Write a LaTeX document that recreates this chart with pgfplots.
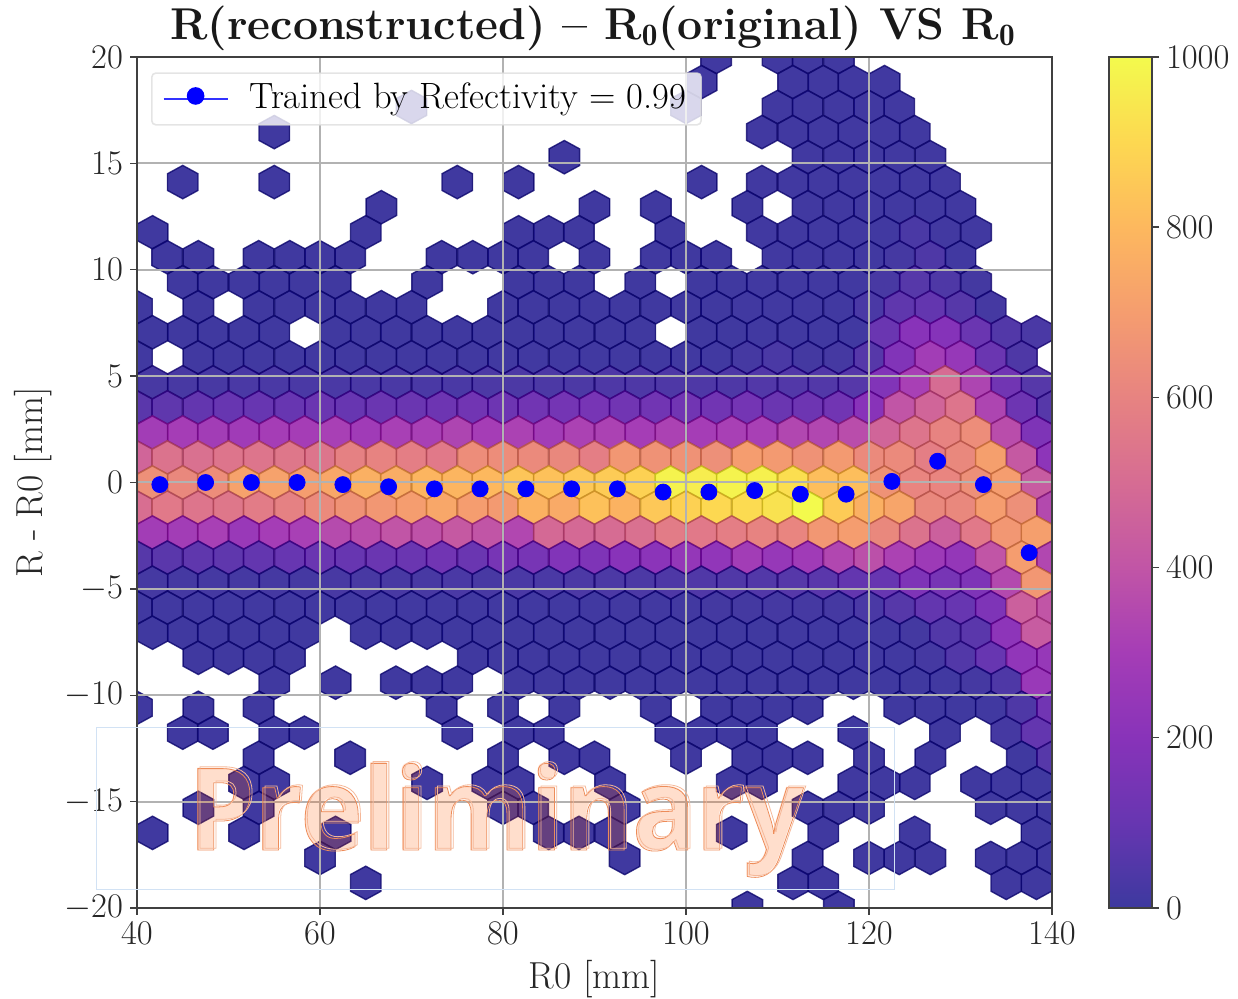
\documentclass[border=0pt]{standalone}
\usepackage{fontspec}
\usepackage{pgfplots}
\pgfplotsset{compat=1.18}
\newfontfamily\prelimfont[FakeStretch=0.925]{Open Sans}
\definecolor{wmbox}{RGB}{210,226,244}
\pgfplotsset{
 colormap={plasmaraw}{rgb255(0)=(13,8,135) rgb255(1)=(65,4,157) rgb255(2)=(106,0,168) rgb255(3)=(143,13,164) rgb255(4)=(177,42,144) rgb255(5)=(204,71,120) rgb255(6)=(225,100,98) rgb255(7)=(242,132,75) rgb255(8)=(252,166,54) rgb255(9)=(252,206,37) rgb255(10)=(240,249,33)},
 colormap={plasmawhite}{rgb255(0)=(61,57,159) rgb255(1)=(103,54,177) rgb255(2)=(136,51,185) rgb255(3)=(165,61,182) rgb255(4)=(193,85,166) rgb255(5)=(214,108,147) rgb255(6)=(231,131,129) rgb255(7)=(245,157,111) rgb255(8)=(253,184,94) rgb255(9)=(253,216,81) rgb255(10)=(243,250,77)},
 wideleg/.style={legend image code/.code={\path (-6pt,0pt) -- (26pt,0pt);\path[mark repeat=2,mark phase=2,##1,draw=none] plot coordinates {(0pt,1.5pt)(10pt,1.5pt)(20pt,1.5pt)};}},
}
\pgfdeclareplotmark{hex}{%
 \pgfpathmoveto{\pgfqpoint{0pt}{8.34pt}}%
 \pgfpathlineto{\pgfqpoint{7.625pt}{4.17pt}}%
 \pgfpathlineto{\pgfqpoint{7.625pt}{-4.17pt}}%
 \pgfpathlineto{\pgfqpoint{0pt}{-8.34pt}}%
 \pgfpathlineto{\pgfqpoint{-7.625pt}{-4.17pt}}%
 \pgfpathlineto{\pgfqpoint{-7.625pt}{4.17pt}}%
 \pgfpathclose\pgfusepathqfillstroke}
\newcommand{\hexrow}[2]{\addplot[scatter,only marks,mark=hex,line width=0.7pt,point meta=explicit,clip marker paths=true,
  mark options={fill opacity=0.8,draw opacity=0.8}]
  table[row sep=\\,x index=0,y expr=#1,meta index=1]{#2};}
\newcommand{\fs}[1]{\fontsize{#1}{#1}\selectfont}
\begin{document}
\begin{tikzpicture}[x=1pt,y=1pt]
\useasboundingbox (0,0) rectangle (619,499.5);
\begin{axis}[name=main,at={(68.5pt,45.5pt)},anchor=south west,scale only axis,width=457.5pt,height=425.5pt,
 xmin=40,xmax=140,ymin=-20,ymax=20,axis on top,grid=major,clip marker paths=true,
 grid style={color=black!30,line width=1pt},
 axis line style={color=black!75,line width=0.7pt},
 tick style={color=black!75,line width=0.7pt},tick align=outside,major tick length=3.5pt,
 xtick pos=bottom,ytick pos=left,
 xtick={40,60,...,140},ytick={-20,-15,...,20},
 ticklabel style={font=\fs{18.3},color=black!85},
 xlabel={R0 [mm]},ylabel={R - R0 [mm]},
 label style={font=\fs{18.8},color=black!85},
 xlabel style={at={(axis description cs:0.5,-0.083)},anchor=center},
 ylabel style={at={(axis description cs:-0.113,0.5)},anchor=center},
 colormap name=plasmaraw,point meta min=0,point meta max=1000,
 colorbar,colorbar/width=21.5pt,
 colorbar style={colormap name=plasmawhite,at={(1.0623,1)},anchor=north west,width=21.5pt,height=425.5pt,scale only axis,
  ytick={0,200,...,1000},major tick length=3.5pt,tick align=outside,ytick pos=right,
  axis line style={color=black!75,line width=0.7pt},
  /pgf/number format/1000 sep={},
  ticklabel style={font=\fs{18.3},color=black!85}},
]
\hexrow{20}{103.3 8\\110 8\\113.3 8\\116.7 8\\}
\hexrow{18.82}{101.7 8\\111.7 8\\115 8\\118.3 8\\121.7 8\\}
\hexrow{17.65}{70 5\\100 5\\110 8\\113.3 8\\116.7 8\\120 8\\123.3 8\\}
\hexrow{16.47}{55 5\\108.3 8\\111.7 8\\115 8\\118.3 8\\121.7 8\\125 8\\}
\hexrow{15.29}{86.7 5\\113.3 8\\116.7 8\\120 8\\123.3 8\\126.7 8\\}
\hexrow{14.12}{45 5\\55 5\\75 5\\81.7 5\\101.7 5\\108.3 8\\111.7 8\\115 8\\118.3 8\\121.7 8\\125 8\\128.3 8\\}
\hexrow{12.94}{66.7 5\\90 5\\96.7 5\\106.7 5\\113.3 8\\116.7 8\\120 8\\123.3 8\\126.7 8\\130 8\\}
\hexrow{11.76}{41.7 5\\65 5\\81.7 5\\85 5\\88.3 5\\98.3 5\\108.3 8\\111.7 8\\115 8\\118.3 8\\121.7 10\\125 30\\128.3 12\\131.7 8\\}
\hexrow{10.59}{43.3 5\\46.7 5\\53.3 5\\56.7 5\\60 5\\63.3 5\\73.3 5\\76.7 5\\80 5\\83.3 5\\90 5\\96.7 5\\100 5\\103.3 5\\110 8\\113.3 8\\116.7 8\\120 8\\123.3 20\\126.7 40\\130 8\\}
\hexrow{9.41}{45 5\\48.3 5\\51.7 5\\55 5\\58.3 5\\61.7 5\\71.7 5\\81.7 5\\85 5\\88.3 5\\95 5\\101.7 5\\105 5\\108.3 8\\111.7 8\\115 8\\118.3 10\\121.7 25\\125 60\\128.3 40\\131.7 15\\}
\hexrow{8.24}{40 5\\46.7 5\\53.3 5\\56.7 5\\60 5\\63.3 5\\66.7 5\\70 5\\80 5\\83.3 5\\86.7 5\\90 5\\93.3 5\\96.7 5\\100 5\\103.3 5\\106.7 8\\110 8\\113.3 8\\116.7 10\\120 30\\123.3 80\\126.7 90\\130 60\\133.3 20\\}
\hexrow{7.06}{41.7 5\\45 5\\48.3 5\\51.7 5\\55 5\\61.7 5\\65 5\\68.3 5\\71.7 5\\75 5\\78.3 5\\81.7 5\\85 5\\88.3 5\\91.7 5\\95 5\\101.7 5\\105 5\\108.3 8\\111.7 8\\115 8\\118.3 10\\121.7 110\\125 200\\128.3 190\\131.7 110\\135 50\\138.3 30\\}
\hexrow{5.88}{40 8\\46.7 8\\50 8\\53.3 8\\56.7 8\\60 8\\63.3 8\\66.7 8\\70 8\\73.3 8\\76.7 8\\80 8\\83.3 8\\86.7 8\\90 8\\93.3 8\\96.7 8\\100 8\\103.3 8\\106.7 20\\110 30\\113.3 15\\116.7 20\\120 60\\123.3 180\\126.7 290\\130 250\\133.3 110\\136.7 40\\}
\hexrow{4.71}{41.7 25\\45 25\\48.3 25\\51.7 30\\55 30\\58.3 30\\61.7 30\\65 30\\68.3 30\\71.7 30\\75 30\\78.3 35\\81.7 35\\85 35\\88.3 35\\91.7 40\\95 40\\98.3 40\\101.7 40\\105 40\\108.3 50\\111.7 50\\115 50\\118.3 60\\121.7 180\\125 310\\128.3 500\\131.7 330\\135 130\\138.3 60\\}
\hexrow{3.53}{40 70\\43.3 80\\46.7 90\\50 100\\53.3 100\\56.7 100\\60 110\\63.3 100\\66.7 110\\70 110\\73.3 120\\76.7 130\\80 120\\83.3 130\\86.7 140\\90 150\\93.3 130\\96.7 130\\100 130\\103.3 130\\106.7 140\\110 110\\113.3 120\\116.7 130\\120 200\\123.3 400\\126.7 470\\130 540\\133.3 330\\136.7 120\\140 60\\}
\hexrow{2.35}{41.7 290\\45 300\\48.3 290\\51.7 280\\55 300\\58.3 300\\61.7 310\\65 280\\68.3 310\\71.7 310\\75 330\\78.3 300\\81.7 320\\85 290\\88.3 320\\91.7 320\\95 300\\98.3 320\\101.7 300\\105 310\\108.3 310\\111.7 340\\115 340\\118.3 370\\121.7 470\\125 540\\128.3 600\\131.7 640\\135 370\\138.3 170\\}
\hexrow{1.18}{40 470\\43.3 530\\46.7 520\\50 540\\53.3 540\\56.7 550\\60 540\\63.3 590\\66.7 600\\70 580\\73.3 560\\76.7 640\\80 640\\83.3 630\\86.7 620\\90 580\\93.3 680\\96.7 660\\100 660\\103.3 650\\106.7 700\\110 690\\113.3 660\\116.7 690\\120 630\\123.3 630\\126.7 580\\130 620\\133.3 710\\136.7 420\\140 220\\}
\hexrow{0}{41.7 650\\45 620\\48.3 640\\51.7 720\\55 720\\58.3 700\\61.7 740\\65 770\\68.3 760\\71.7 790\\75 790\\78.3 800\\81.7 840\\85 830\\88.3 850\\91.7 860\\95 880\\98.3 980\\101.7 960\\105 980\\108.3 970\\111.7 920\\115 820\\118.3 820\\121.7 660\\125 610\\128.3 610\\131.7 650\\135 700\\138.3 430\\}
\hexrow{-1.18}{40 510\\43.3 560\\46.7 540\\50 550\\53.3 570\\56.7 590\\60 630\\63.3 660\\66.7 680\\70 700\\73.3 740\\76.7 700\\80 690\\83.3 780\\86.7 750\\90 830\\93.3 780\\96.7 850\\100 880\\103.3 900\\106.7 910\\110 930\\113.3 1000\\116.7 860\\120 770\\123.3 730\\126.7 620\\130 620\\133.3 700\\136.7 650\\140 350\\}
\hexrow{-2.35}{41.7 290\\45 290\\48.3 310\\51.7 260\\55 300\\58.3 310\\61.7 360\\65 370\\68.3 400\\71.7 390\\75 420\\78.3 400\\81.7 340\\85 490\\88.3 490\\91.7 500\\95 520\\98.3 570\\101.7 560\\105 580\\108.3 600\\111.7 610\\115 680\\118.3 700\\121.7 620\\125 530\\128.3 450\\131.7 560\\135 680\\138.3 710\\}
\hexrow{-3.53}{40 60\\43.3 70\\46.7 80\\50 80\\53.3 90\\56.7 100\\60 110\\63.3 100\\66.7 110\\70 110\\73.3 130\\76.7 110\\80 150\\83.3 150\\86.7 180\\90 170\\93.3 200\\96.7 210\\100 240\\103.3 230\\106.7 290\\110 250\\113.3 280\\116.7 340\\120 380\\123.3 320\\126.7 270\\130 240\\133.3 400\\136.7 700\\140 340\\}
\hexrow{-4.71}{41.7 20\\45 20\\48.3 20\\51.7 20\\55 20\\58.3 20\\61.7 25\\65 25\\68.3 25\\71.7 25\\75 30\\78.3 25\\81.7 30\\85 30\\88.3 35\\91.7 35\\95 35\\98.3 40\\101.7 45\\105 45\\108.3 50\\111.7 60\\115 70\\118.3 90\\121.7 100\\125 170\\128.3 150\\131.7 170\\135 350\\138.3 680\\}
\hexrow{-5.88}{40 8\\43.3 8\\46.7 8\\50 8\\53.3 8\\56.7 8\\60 8\\63.3 8\\66.7 10\\70 10\\73.3 10\\76.7 10\\80 10\\83.3 10\\86.7 10\\90 10\\93.3 12\\96.7 12\\100 12\\103.3 15\\106.7 15\\110 20\\113.3 20\\116.7 20\\120 30\\123.3 60\\126.7 90\\130 100\\133.3 170\\136.7 450\\140 400\\}
\hexrow{-7.06}{41.7 5\\45 5\\48.3 5\\51.7 5\\55 5\\58.3 5\\65 5\\68.3 5\\71.7 5\\75 5\\78.3 5\\81.7 5\\85 5\\88.3 5\\91.7 5\\95 5\\98.3 5\\101.7 5\\105 5\\108.3 5\\111.7 8\\115 8\\118.3 10\\121.7 12\\125 15\\128.3 50\\131.7 70\\135 220\\138.3 430\\}
\hexrow{-8.24}{46.7 5\\50 5\\53.3 5\\56.7 5\\76.7 5\\80 5\\83.3 5\\86.7 5\\90 5\\93.3 5\\96.7 5\\100 5\\103.3 5\\106.7 5\\110 5\\113.3 5\\116.7 5\\120 8\\123.3 10\\126.7 20\\130 50\\133.3 100\\136.7 230\\140 250\\}
\hexrow{-9.41}{55 5\\61.7 5\\68.3 5\\71.7 5\\75 5\\81.7 5\\85 5\\88.3 5\\91.7 5\\95 5\\98.3 5\\101.7 5\\105 5\\108.3 5\\111.7 5\\115 5\\118.3 5\\121.7 5\\125 5\\128.3 8\\131.7 20\\135 40\\138.3 260\\}
\hexrow{-10.59}{40 5\\46.7 5\\53.3 5\\73.3 5\\80 5\\86.7 5\\96.7 5\\103.3 5\\106.7 5\\110 5\\113.3 5\\123.3 5\\126.7 5\\130 5\\133.3 8\\136.7 40\\140 130\\}
\hexrow{-11.76}{45 5\\48.3 5\\55 5\\58.3 5\\75 5\\81.7 5\\85 5\\98.3 5\\101.7 5\\105 5\\108.3 5\\118.3 5\\128.3 5\\135 20\\138.3 90\\}
\hexrow{-12.94}{53.3 5\\63.3 5\\80 5\\86.7 5\\90 5\\100 5\\106.7 5\\110 5\\113.3 5\\120 5\\126.7 5\\136.7 5\\140 60\\}
\hexrow{-14.12}{51.7 5\\55 5\\71.7 5\\78.3 5\\81.7 5\\91.7 5\\105 5\\108.3 5\\118.3 5\\121.7 5\\125 5\\131.7 5\\135 5\\138.3 5\\}
\hexrow{-15.29}{46.7 5\\53.3 5\\80 5\\83.3 5\\93.3 5\\113.3 5\\116.7 5\\120 5\\133.3 5\\136.7 5\\140 5\\}
\hexrow{-16.47}{41.7 5\\51.7 5\\61.7 5\\85 5\\88.3 5\\91.7 5\\105 5\\115 5\\125 5\\138.3 5\\}
\hexrow{-17.65}{60 5\\93.3 5\\113.3 5\\120 5\\123.3 5\\126.7 5\\133.3 5\\136.7 5\\140 5\\}
\hexrow{-18.82}{65 5\\111.7 5\\115 5\\135 5\\138.3 5\\}
\hexrow{-20}{106.7 5\\116.7 5\\}
\end{axis}
\begin{axis}[at={(68.5pt,45.5pt)},anchor=south west,scale only axis,width=457.5pt,height=425.5pt,
 xmin=40,xmax=140,ymin=-20,ymax=20,hide axis,
 legend style={at={(0.0153,0.982)},anchor=north west,rounded corners=2pt,draw=black!13,line width=0.8pt,
  fill opacity=0.8,draw opacity=0.8,text opacity=1,font=\fs{18.3},inner xsep=5.5pt,inner ysep=3pt},
 legend cell align=left,
]
\addplot[forget plot,only marks,mark=*,mark size=4pt,color=blue,mark options={fill=blue,draw=blue}] coordinates {
(42.5,-0.1)(47.5,0)(52.5,0)(57.5,0)(62.5,-0.1)(67.5,-0.2)(72.5,-0.3)(77.5,-0.3)(82.5,-0.3)(87.5,-0.3)
(92.5,-0.3)(97.5,-0.45)(102.5,-0.45)(107.5,-0.38)(112.5,-0.55)(117.5,-0.55)(122.5,0.05)(127.5,1.0)(132.5,-0.1)(137.5,-3.3)};
\addlegendimage{only marks,mark=*,mark size=4pt,color=blue,mark options={fill=blue,draw=blue,opacity=1,fill opacity=1,draw opacity=1},wideleg}
\addlegendentry{\hbox to 8.5pt{}\raisebox{1.5pt}{Trained by Refectivity = 0.99}}
\end{axis}
\node[anchor=center,font=\bfseries\fs{22.3},text=black!90] at (296.5,485.5) {R(reconstructed) -- R$_{\mathbf{0}}$(original) VS R$_{\mathbf{0}}$};
% watermark
\draw[color=wmbox,line width=0.5pt] (48,54.5) rectangle (447,135.5);
\node[anchor=base west,inner sep=0pt,text=orange!70!red,opacity=0.2] at (94,74.5) {\prelimfont\bfseries\fs{57}Preliminary};
\node[anchor=base west,inner sep=0pt] at (94,74.5) {\special{pdf:code q 1 Tr 0.4 w 0.93 0.55 0.35 RG}\prelimfont\bfseries\fs{57}Preliminary\special{pdf:code Q}};
\node[anchor=base west,inner sep=0pt] at (95.1,75.4) {\special{pdf:code q 1 Tr 0.4 w 0.96 0.72 0.6 RG}\prelimfont\bfseries\fs{57}Preliminary\special{pdf:code Q}};
\end{tikzpicture}
\end{document}
